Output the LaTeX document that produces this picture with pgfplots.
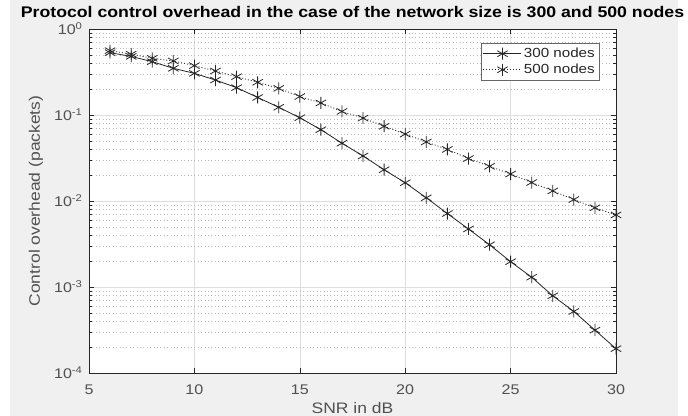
\documentclass[border=0pt]{standalone}
\usepackage{pgfplots}
\pgfplotsset{compat=1.18}
\usepackage{fontspec}
\setmainfont{Liberation Sans}[FakeStretch=1.15]
\definecolor{figbg}{RGB}{240,240,240}
\definecolor{axcol}{RGB}{38,38,38}
\definecolor{gridcol}{RGB}{222,222,222}
\definecolor{mgridcol}{RGB}{185,185,185}
\begin{document}
\begin{tikzpicture}
\fill[white] (0,0) rectangle (688bp,416bp);
\fill[figbg] (10bp,0) rectangle (678bp,416bp);
\useasboundingbox (0,0) rectangle (688bp,416bp);
\begin{axis}[
  at={(89bp,43bp)}, anchor=south west,
  scale only axis,
  width=527bp, height=344bp,
  ymode=log,
  xmin=5, xmax=30, ymin=1e-4, ymax=1,
  axis background/.style={fill=white},
  axis line style={axcol, line width=0.6pt},
  tick style={axcol, line width=0.5pt},
  major tick length=5bp, minor tick length=3bp,
  tick align=inside,
  xtick={5,10,15,20,25,30},
  xticklabels={5,10,15,20,25,30},
  ytick={1e-4,1e-3,1e-2,1e-1,1},
  yticklabels={10\textsuperscript{-4},10\textsuperscript{-3},10\textsuperscript{-2},10\textsuperscript{-1},10\textsuperscript{0}},
  /pgf/number format/assume math mode=true,
  ticklabel style={font=\fontsize{14bp}{16bp}\selectfont, text=axcol!80},
  xticklabel style={anchor=base, yshift=-21bp},
  yticklabel style={xshift=-3bp},
  xmajorgrids=true, ymajorgrids=true, yminorgrids=true,
  major grid style={gridcol, line width=0.5pt},
  minor grid style={mgridcol, dash pattern=on 0.8bp off 2.6bp, line width=0.5pt},
  title={\textbf{Protocol control overhead in the case of the network size is 300 and 500 nodes}},
  title style={font=\fontsize{15.4bp}{17bp}\selectfont, at={(0.5,1)}, anchor=base, yshift=6bp, inner sep=0pt},
  xlabel={SNR in dB},
  xlabel style={font=\fontsize{15.2bp}{17bp}\selectfont, text=axcol!80, at={(axis description cs:0.5,-0.102)}, anchor=center},
  ylabel={Control overhead (packets)},
  ylabel style={font=\fontsize{15.2bp}{17bp}\selectfont, text=axcol!80, at={(axis description cs:-0.1006,0.5)}, anchor=center},
  legend style={at={(0.9677,0.9593)}, anchor=north east, draw=axcol!70, fill=white,
    font=\fontsize{13.2bp}{15bp}\selectfont, inner xsep=2bp, inner ysep=3bp, row sep=1bp, text=axcol},
  legend cell align=left,
  legend image code/.code={\draw[mark repeat=2,mark phase=2,#1] plot coordinates {(0bp,0bp) (19bp,0bp) (38bp,0bp)};},
]
\addplot[black!85, line width=0.8pt, mark=asterisk, mark size=6bp, mark options={solid, line width=0.8pt}] coordinates {
(6,0.53) (7,0.48) (8,0.417) (9,0.349) (10,0.305) (11,0.255) (12,0.208) (13,0.160) (14,0.123) (15,0.093)
(16,0.0675) (17,0.047) (18,0.0334) (19,0.0231) (20,0.0163) (21,0.0109) (22,0.00715) (23,0.00473) (24,0.0031) (25,0.00197)
(26,0.0013) (27,0.00079) (28,0.00052) (29,0.000315) (30,0.000192)};
\addlegendentry{300 nodes}
\addplot[black!85, line width=0.8pt, dash pattern=on 1bp off 2bp, mark=asterisk, mark size=6bp, mark options={solid, line width=0.8pt}] coordinates {
(6,0.56) (7,0.51) (8,0.456) (9,0.425) (10,0.375) (11,0.325) (12,0.279) (13,0.24) (14,0.204) (15,0.164)
(16,0.138) (17,0.11) (18,0.092) (19,0.074) (20,0.060) (21,0.0486) (22,0.0398) (23,0.0312) (24,0.0253) (25,0.0206)
(26,0.0164) (27,0.0131) (28,0.0104) (29,0.00834) (30,0.00689)};
\addlegendentry{500 nodes}
\end{axis}
\end{tikzpicture}
\end{document}
